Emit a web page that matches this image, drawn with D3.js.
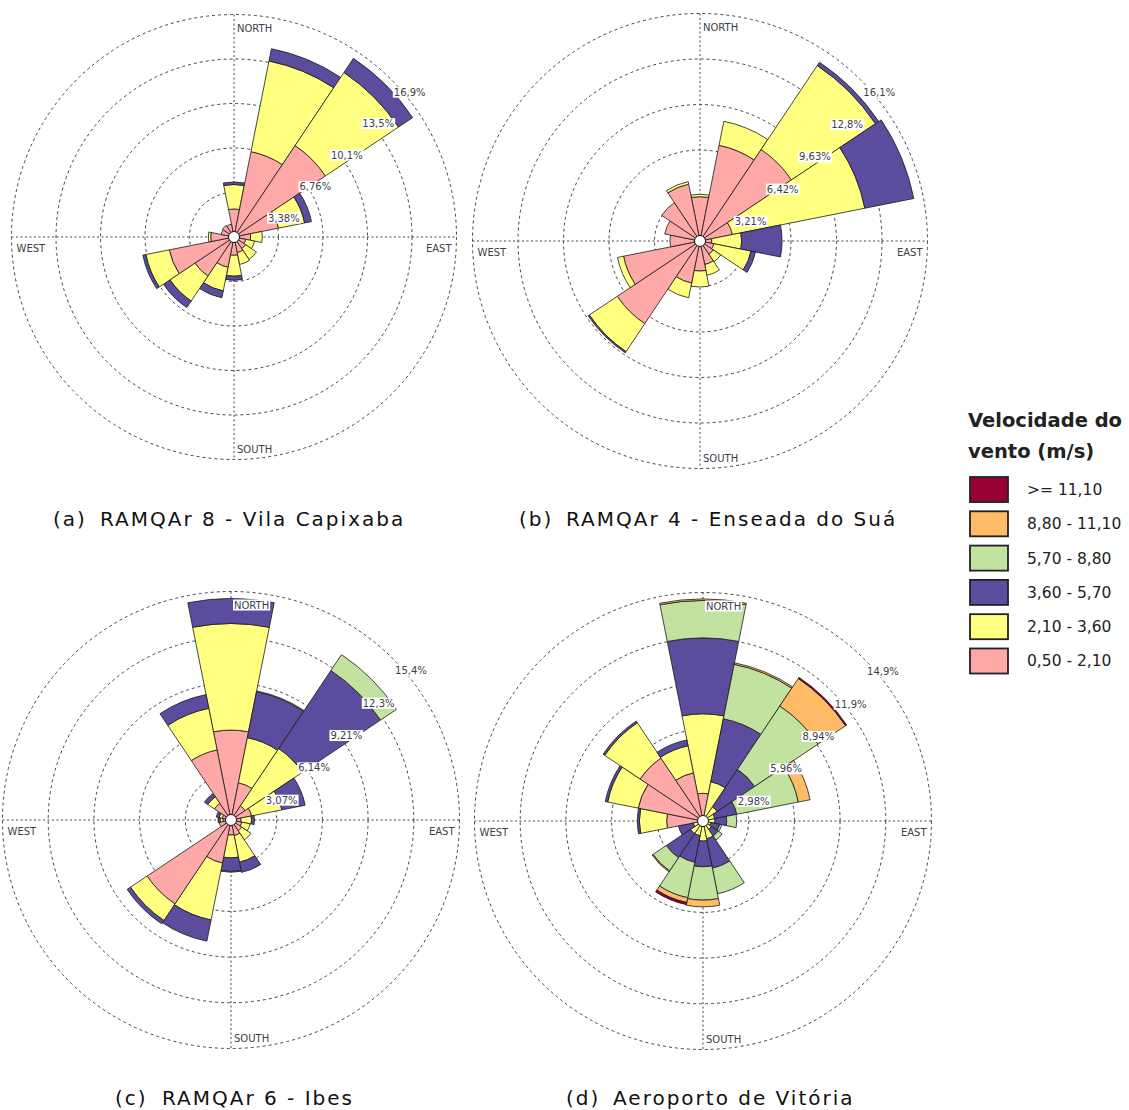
<!DOCTYPE html>
<html><head><meta charset="utf-8">
<script src="https://cdn.jsdelivr.net/npm/d3@7"></script>
<style>body{margin:0;background:#fff} svg{display:block}</style>
</head><body>
<svg id="chart" width="1129" height="1110"></svg>
<script>
// ---------- data ----------
const directions = ["N","NNE","NE","ENE","E","ESE","SE","SSE","S","SSW","SW","WSW","W","WNW","NW","NNW"];
const speedClasses = ["0,50 - 2,10","2,10 - 3,60","3,60 - 5,70","5,70 - 8,80","8,80 - 11,10",">= 11,10"];
const classColors = ["#ffa8a8","#ffff80","#5c4c9e","#c2e2a0","#ffbb66","#990033"];
const legendTitle = ["Velocidade do","vento (m/s)"];

// frequencies (%) per speed class (rows) and direction (columns)
const vilaCapixaba = [
  [2.13, 6.61, 8.35, 3.45, 1.27, 0.91, 1.06, 1.21, 1.39, 2.35, 3.57, 5.01, 1.77, 0.99, 1.06, 0.99],
  [1.86, 7.02, 6.68, 2.02, 0.88, 0.68, 0.99, 0.92, 1.59, 1.83, 2.28, 1.82, 0.18, 0, 0, 0],
  [0.19, 0.95, 1.29, 0.53, 0, 0, 0, 0, 0.31, 0.53, 0.60, 0.23, 0, 0, 0, 0]
];
const enseadaDoSua = [
  [3.13, 6.88, 7.76, 2.33, 0.83, 0.99, 1.13, 1.69, 2.12, 3.03, 7.02, 5.50, 2.12, 2.54, 3.25, 4.09],
  [0.17, 1.73, 7.13, 9.53, 2.11, 2.68, 0.63, 0.78, 1.13, 1.06, 2.37, 0.43, 0, 0, 0, 0.18],
  [0, 0, 0.28, 3.52, 2.85, 0.32, 0, 0, 0, 0, 0.10, 0, 0, 0, 0, 0]
];
const ibes = [
  [6.04, 2.55, 1.14, 1.41, 0.67, 0.74, 0.87, 1.07, 1.01, 2.95, 6.78, 0.81, 0.54, 0.60, 1.34, 4.80],
  [7.16, 3.09, 4.63, 2.08, 0.71, 0.57, 0.74, 1.82, 1.54, 3.90, 1.34, 0, 0.20, 0.21, 0.54, 2.85],
  [1.68, 3.15, 6.31, 1.59, 0.20, 0, 0, 0.70, 0.91, 1.45, 0.27, 0, 0.13, 0.20, 0.27, 0.94],
  [0, 0.05, 1.28, 0, 0, 0, 0, 0, 0.05, 0, 0, 0, 0, 0, 0, 0]
];
const aeroporto = [
  [1.81, 0, 0, 0, 0, 0, 0, 0, 0, 0, 0, 0, 2.37, 4.31, 4.93, 3.20],
  [5.18, 2.61, 1.11, 0.78, 0.78, 0.52, 0.65, 1.18, 1.31, 0.98, 0.98, 0.65, 1.78, 2.03, 2.78, 1.80],
  [4.95, 4.19, 2.94, 1.47, 0.77, 0.59, 0.53, 1.96, 1.68, 1.77, 1.90, 0.98, 0.14, 0.16, 0.13, 0.39],
  [2.44, 3.62, 4.97, 4.09, 0.65, 0.13, 0.32, 1.70, 2.17, 2.35, 1.04, 0, 0, 0, 0, 0],
  [0.10, 0.10, 2.16, 0.78, 0, 0, 0, 0, 0.44, 0.32, 0.07, 0, 0, 0, 0, 0],
  [0, 0, 0.09, 0, 0, 0, 0, 0, 0, 0.14, 0, 0, 0, 0, 0, 0]
];

const ringsA = [3.38, 6.76, 10.14, 13.52, 16.9];
const ringsB = [3.21, 6.42, 9.63, 12.84, 16.05];
const ringsC = [3.07, 6.14, 9.21, 12.28, 15.35];
const ringsD = [2.98, 5.96, 8.94, 11.92, 14.9];
const ringLabelsA = ["3,38%","6,76%","10,1%","13,5%","16,9%"];
const ringLabelsB = ["3,21%","6,42%","9,63%","12,8%","16,1%"];
const ringLabelsC = ["3,07%","6,14%","9,21%","12,3%","15,4%"];
const ringLabelsD = ["2,98%","5,96%","8,94%","11,9%","14,9%"];
const captionTags = ["(a)","(b)","(c)","(d)"];
const captionNames = ["RAMQAr 8 - Vila Capixaba","RAMQAr 4 - Enseada do Suá","RAMQAr 6 - Ibes","Aeroporto de Vitória"];
const compassLabels = ["NORTH","SOUTH","WEST","EAST"];

// ---------- layout ----------
const panels = [
  {data: vilaCapixaba, rings: ringsA, labels: ringLabelsA, cx: 234, cy: 237, R: 222.5, capX: 53, capY: 526},
  {data: enseadaDoSua, rings: ringsB, labels: ringLabelsB, cx: 700, cy: 241, R: 227.5, capX: 519, capY: 526},
  {data: ibes, rings: ringsC, labels: ringLabelsC, cx: 231, cy: 820, R: 228.5, capX: 115, capY: 1105},
  {data: aeroporto, rings: ringsD, labels: ringLabelsD, cx: 703, cy: 821, R: 228.5, capX: 566, capY: 1105}
];

const svg = d3.select("#chart");
const smallFont = "DejaVu Sans, Verdana, sans-serif";
const step = 2 * Math.PI / directions.length;

panels.forEach((p, pi) => {
  const g = svg.append("g").attr("transform", `translate(${p.cx},${p.cy})`);
  const r = d3.scaleLinear().domain([0, p.rings[p.rings.length - 1]]).range([0, p.R]);

  // grid rings
  g.selectAll("circle.ring").data(p.rings).join("circle")
    .attr("r", d => r(d)).attr("fill", "none")
    .attr("stroke", "#444").attr("stroke-width", 1).attr("stroke-dasharray", "3,3");
  // axes
  g.append("line").attr("x1", -p.R).attr("x2", p.R).attr("y1", 0).attr("y2", 0)
    .attr("stroke", "#444").attr("stroke-dasharray", "2,2.5");
  g.append("line").attr("y1", -p.R).attr("y2", p.R).attr("x1", 0).attr("x2", 0)
    .attr("stroke", "#444").attr("stroke-dasharray", "2,2.5");

  // stacked wedges
  const arc = d3.arc();
  const segs = [];
  directions.forEach((dir, di) => {
    let cum = 0;
    p.data.forEach((row, ci) => {
      const v = row[di];
      if (v > 0) {
        segs.push({ci, inner: cum, outer: cum + v, a0: di * step - step / 2, a1: di * step + step / 2});
        cum += v;
      }
    });
  });
  g.selectAll("path.seg").data(segs).join("path")
    .attr("d", d => arc({innerRadius: r(d.inner), outerRadius: r(d.outer), startAngle: d.a0, endAngle: d.a1}))
    .attr("fill", d => classColors[d.ci])
    .attr("stroke", "#1a1a1a").attr("stroke-width", 0.8).attr("stroke-linejoin", "miter");

  // calm hole
  g.append("circle").attr("r", 5.5).attr("fill", "#fff").attr("stroke", "#111").attr("stroke-width", 1);

  // label helper with white box
  function boxLabel(x, y, txt, anchor) {
    const t = g.append("text").attr("x", x).attr("y", y).text(txt)
      .attr("font-family", smallFont).attr("font-size", 10).attr("fill", "#3a3f4a")
      .attr("text-anchor", anchor || "start");
    const bb = t.node().getBBox();
    g.insert("rect", () => t.node())
      .attr("x", bb.x - 1).attr("y", bb.y).attr("width", bb.width + 2).attr("height", bb.height)
      .attr("fill", "#fff");
  }

  // ring labels at 45°
  p.rings.forEach((v, i) => {
    const rr = r(v);
    const x = rr * Math.SQRT1_2 + 2.5, y = -rr * Math.SQRT1_2 + 16;
    boxLabel(x, y, p.labels[i]);
  });

  // compass labels
  boxLabel(3, -p.R + 17, compassLabels[0]);
  boxLabel(3, p.R - 7, compassLabels[1]);
  boxLabel(-p.R + 5, 15, compassLabels[2]);
  boxLabel(p.R - 5, 15, compassLabels[3], "end");

  // caption
  svg.append("text").attr("x", p.capX).attr("y", p.capY).text(captionTags[pi])
    .attr("font-family", smallFont).attr("font-size", 20).attr("letter-spacing", 2).attr("fill", "#111");
  svg.append("text").attr("x", p.capX + 47).attr("y", p.capY).text(captionNames[pi])
    .attr("font-family", smallFont).attr("font-size", 20).attr("letter-spacing", 2).attr("fill", "#111");
});

// ---------- legend ----------
const lg = svg.append("g");
lg.selectAll("text.title").data(legendTitle).join("text")
  .attr("x", 968).attr("y", (d, i) => 427 + i * 31).text(d => d)
  .attr("font-family", "DejaVu Sans, Verdana, sans-serif").attr("font-weight", "bold")
  .attr("font-size", 19.5).attr("fill", "#222");
const legendOrder = d3.range(speedClasses.length).reverse();
const ly = d3.scaleBand().domain(legendOrder).range([477, 673.5]).paddingInner(0.27);
lg.selectAll("rect.sw").data(legendOrder).join("rect")
  .attr("x", 970).attr("y", d => ly(d)).attr("width", 38).attr("height", ly.bandwidth())
  .attr("fill", d => classColors[d]).attr("stroke", "#222").attr("stroke-width", 1.8);
lg.selectAll("text.lab").data(legendOrder).join("text")
  .attr("x", 1027).attr("y", d => ly(d) + ly.bandwidth() / 2 + 5.5).text(d => speedClasses[d])
  .attr("font-family", "DejaVu Sans, Verdana, sans-serif").attr("font-size", 15.5).attr("fill", "#222");
</script>
</body></html>
